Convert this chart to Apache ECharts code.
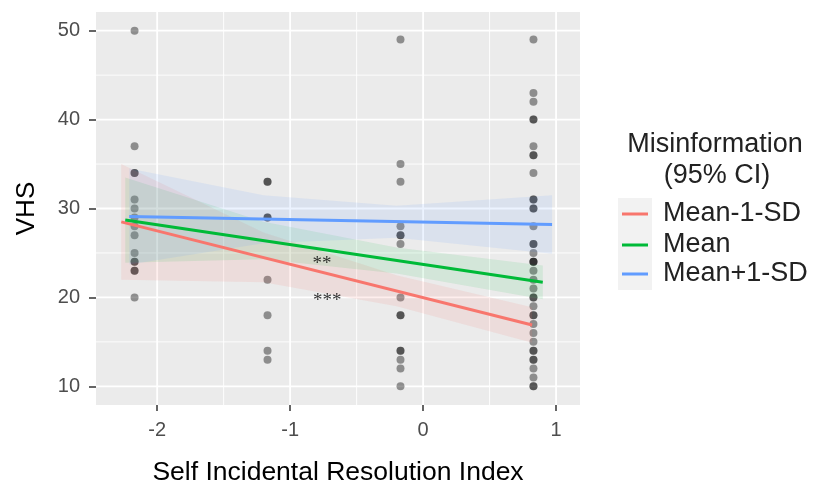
<!DOCTYPE html>
<html>
<head>
<meta charset="utf-8">
<script src="https://cdn.jsdelivr.net/npm/echarts@6/dist/echarts.min.js"></script>
<style>
  html, body { margin: 0; padding: 0; background: #fff; }
  #chart { width: 813px; height: 486px; }
</style>
</head>
<body>
<div id="chart"></div>
<script>
// scores of the four index levels (x) and VHS values seen at each level
const levelX = [-2.17, -1.17, -0.17, 0.83];
const vhsLevel1 = [50, 37, 34, 34, 31, 30, 29, 28, 27, 25, 24, 24, 23, 23, 20];
const vhsLevel2 = [33, 33, 29, 29, 22, 18, 14, 13];
const vhsLevel3 = [49, 35, 33, 28, 27, 27, 26, 20, 18, 18, 14, 14, 13, 12, 10];
const vhsLevel4 = [49, 43, 42, 40, 40, 37, 36, 36, 34, 31, 31, 30, 30, 28, 26, 26, 25, 24, 24, 24,
                   23, 22, 21, 20, 20, 19, 18, 18, 17, 16, 15, 14, 14, 13, 13, 12, 11, 10, 10];

// fitted lines (start/end)
const groupNames = ['Mean-1-SD', 'Mean', 'Mean+1-SD'];
const lowX = [-2.27, 0.82];
const lowY = [28.5, 16.9];
const meanX = [-2.24, 0.9];
const meanY = [28.7, 21.7];
const highX = [-2.21, 0.97];
const highY = [29.1, 28.2];

// 95% CI ribbons
const lowBandX = [-2.27, -1.2, -0.2, 0.82];
const lowBandHi = [35.0, 27.3, 22.5, 18.9];
const lowBandLo = [22.0, 21.7, 19.0, 14.9];
const meanBandX = [-2.24, -1.2, -0.2, 0.9];
const meanBandHi = [33.5, 28.5, 25.6, 23.6];
const meanBandLo = [23.9, 24.3, 22.7, 19.8];
const highBandX = [-2.21, -1.2, -0.2, 0.97];
const highBandHi = [34.5, 31.5, 30.3, 31.5];
const highBandLo = [23.7, 26.1, 26.7, 24.9];

// significance marks
const starX = [-0.76, -0.72];
const starY = [23.8, 19.6];
const starText = ['**', '***'];

const xTicks = [-2, -1, 0, 1];
const xMinor = [-1.5, -0.5, 0.5];
const yTicks = [10, 20, 30, 40, 50];
const yMinor = [15, 25, 35, 45];

const xMin = -2.46, xMax = 1.18, yMin = 7.9, yMax = 52.1;
const colors = ['#F8766D', '#00BA38', '#619CFF'];
const fillColors = ['rgba(248,118,109,0.12)', 'rgba(0,186,56,0.1)', 'rgba(97,156,255,0.12)'];
const font = '"Liberation Sans", Arial, sans-serif';

const points = [];
[vhsLevel1, vhsLevel2, vhsLevel3, vhsLevel4].forEach((arr, i) => {
    arr.forEach(v => points.push([levelX[i], v]));
});

const bands = [
    {x: lowBandX, hi: lowBandHi, lo: lowBandLo},
    {x: meanBandX, hi: meanBandHi, lo: meanBandLo},
    {x: highBandX, hi: highBandHi, lo: highBandLo}
];
const lines = [[lowX, lowY], [meanX, meanY], [highX, highY]];

const gridItems = [];
xTicks.forEach(v => gridItems.push([v, 0, 1]));
xMinor.forEach(v => gridItems.push([v, 0, 0]));
yTicks.forEach(v => gridItems.push([v, 1, 1]));
yMinor.forEach(v => gridItems.push([v, 1, 0]));

const option = {
    animation: false,
    grid: {
        left: 96, right: 233, top: 12, bottom: 81,
        outerBoundsMode: 'none', containLabel: false,
        show: true, backgroundColor: '#EBEBEB', borderWidth: 0
    },
    xAxis: {
        type: 'value', min: xMin, max: xMax,
        axisLine: {show: false, onZero: false},
        splitLine: {show: false},
        axisTick: {show: true, length: 6, customValues: xTicks, lineStyle: {color: '#333', width: 1.5}},
        axisLabel: {customValues: xTicks, color: '#4D4D4D', fontSize: 20, fontFamily: font, margin: 15},
        name: 'Self Incidental Resolution Index',
        nameLocation: 'middle', nameGap: 54,
        nameTextStyle: {color: '#000', fontSize: 26.5, fontFamily: font}
    },
    yAxis: {
        type: 'value', min: yMin, max: yMax,
        axisLine: {show: false, onZero: false},
        splitLine: {show: false},
        axisTick: {show: true, length: 7, customValues: yTicks, lineStyle: {color: '#333', width: 1.5}},
        axisLabel: {customValues: yTicks, color: '#4D4D4D', fontSize: 20, fontFamily: font, margin: 16},
        name: 'VHS',
        nameLocation: 'middle', nameGap: 56, nameRotate: 90,
        nameTextStyle: {color: '#000', fontSize: 26, fontFamily: font}
    },
    series: [
        {
            type: 'custom', silent: true, z: 0,
            data: gridItems,
            renderItem: function (params, api) {
                const v = api.value(0), vertical = api.value(1) === 0, major = api.value(2) === 1;
                const p1 = vertical ? api.coord([v, yMin]) : api.coord([xMin, v]);
                const p2 = vertical ? api.coord([v, yMax]) : api.coord([xMax, v]);
                return {
                    type: 'line',
                    shape: {x1: p1[0], y1: p1[1], x2: p2[0], y2: p2[1]},
                    style: {stroke: '#fff', lineWidth: major ? 1.8 : 0.9}
                };
            },
            encode: {x: 0, y: 0}
        },
        {
            type: 'scatter', z: 2,
            data: points,
            symbolSize: 8,
            itemStyle: {color: 'rgba(0,0,0,0.5)'}
        },
        {
            type: 'custom', silent: true, z: 3,
            data: [[0, 20], [1, 20], [2, 20]],
            renderItem: function (params, api) {
                const b = bands[params.dataIndex];
                const pts = [];
                for (let i = 0; i < b.x.length; i++) pts.push(api.coord([b.x[i], b.hi[i]]));
                for (let i = b.x.length - 1; i >= 0; i--) pts.push(api.coord([b.x[i], b.lo[i]]));
                return {type: 'polygon', shape: {points: pts}, style: {fill: fillColors[params.dataIndex]}};
            },
            encode: {x: 0, y: 1}
        }
    ].concat(lines.map((l, i) => ({
        name: groupNames[i],
        type: 'line', z: 4,
        data: l[0].map((x, j) => [x, l[1][j]]),
        showSymbol: false,
        lineStyle: {color: colors[i], width: 3},
        itemStyle: {color: colors[i]}
    }))).concat([{
        type: 'scatter', z: 5, silent: true,
        data: starX.map((x, i) => [x, starY[i]]),
        symbolSize: 0,
        label: {
            show: true, position: 'inside',
            formatter: p => starText[p.dataIndex],
            color: '#000', fontSize: 19, fontFamily: '"Liberation Serif", serif'
        }
    }]),
    graphic: [
        {type: 'text', x: 715, y: 145, style: {text: 'Misinformation', font: '27px ' + font, fill: '#222', align: 'center', verticalAlign: 'middle'}},
        {type: 'text', x: 717, y: 176, style: {text: '(95% CI)', font: '27px ' + font, fill: '#222', align: 'center', verticalAlign: 'middle'}},
        {type: 'rect', shape: {x: 618, y: 198, width: 34, height: 92}, style: {fill: '#F2F2F2'}},
        {type: 'line', shape: {x1: 622, y1: 214, x2: 648, y2: 214}, style: {stroke: colors[0], lineWidth: 3}},
        {type: 'line', shape: {x1: 622, y1: 245, x2: 648, y2: 245}, style: {stroke: colors[1], lineWidth: 3}},
        {type: 'line', shape: {x1: 622, y1: 274, x2: 648, y2: 274}, style: {stroke: colors[2], lineWidth: 3}},
        {type: 'text', x: 663, y: 214, style: {text: groupNames[0], font: '27px ' + font, fill: '#222', verticalAlign: 'middle'}},
        {type: 'text', x: 663, y: 245, style: {text: groupNames[1], font: '27px ' + font, fill: '#222', verticalAlign: 'middle'}},
        {type: 'text', x: 663, y: 274, style: {text: groupNames[2], font: '27px ' + font, fill: '#222', verticalAlign: 'middle'}}
    ]
};

const chart = echarts.init(document.getElementById('chart'));
chart.setOption(option);
</script>
</body>
</html>
